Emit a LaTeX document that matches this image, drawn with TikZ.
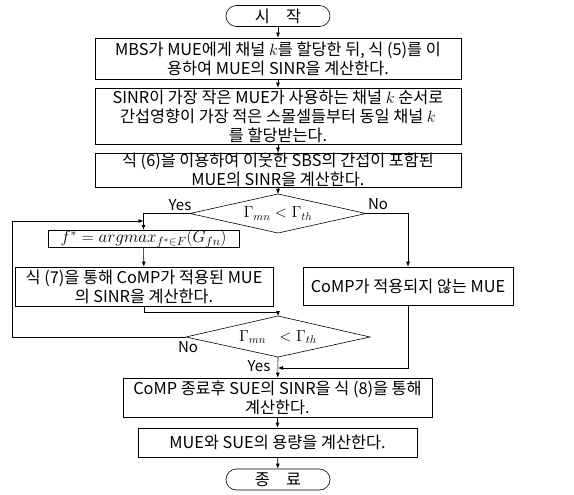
\documentclass[tikz,border=0pt]{standalone}
\usepackage{fix-cm}
\usepackage{fontspec}
\setmainfont{Noto Sans CJK KR}
\usetikzlibrary{shapes.geometric,arrows.meta}
\tikzset{
  txt/.style={font=\fontsize{16.3}{19}\selectfont},
  box/.style={draw, line width=0.6pt, rectangle, align=center, inner sep=0pt, txt},
  term/.style={draw, line width=0.6pt, rectangle, rounded corners=10.5pt, minimum width=104pt, minimum height=21pt, inner sep=0pt, txt},
  mth/.style={inner sep=0pt, font=\fontsize{16}{18}\selectfont},
  conn/.style={line width=0.6pt, -{Latex[length=5pt,width=4pt]}},
  line/.style={line width=0.6pt},
  lbl/.style={font=\fontsize{15}{17}\selectfont, inner sep=0pt}
}
\begin{document}
\begin{tikzpicture}[x=1pt,y=-1pt]
\useasboundingbox (0,0) rectangle (574,495);
\node[term] (start) at (278,16) {시\quad 작};
\node[box, minimum width=366pt, minimum height=41pt] (b1) at (278,58.5) {MBS가 MUE에게 채널 $k$를 할당한 뒤, 식 (5)를 이\\용하여 MUE의 SINR을 계산한다.};
\node[box, minimum width=366pt, minimum height=56pt] (b2) at (278,116) {SINR이 가장 작은 MUE가 사용하는 채널 $k$ 순서로\\간섭영향이 가장 적은 스몰셀들부터 동일 채널 $k$\\를 할당받는다.};
\node[box, minimum width=366pt, minimum height=34pt] (b3) at (278,170) {식 (6)을 이용하여 이웃한 SBS의 간섭이 포함된\\MUE의 SINR을 계산한다.};
\draw[line] (278,194) -- (366,213.5) -- (278,233) -- (190,213.5) -- cycle;
\node[mth] (d1) at (278,213.5) {$\Gamma_{mn} < \Gamma_{th}$};
\coordinate (d1t) at (278,194);
\coordinate (d1l) at (190,213.5);
\coordinate (d1r) at (366,213.5);
\node[box, mth, font=\fontsize{17}{19}\selectfont, minimum width=191pt, minimum height=16pt] (fb) at (143.5,239) {$f^{*} = argmax_{f^{*}\in F}(G_{fn})$};
\node[box, minimum width=258pt, minimum height=39pt] (b7) at (144,286.5) {식 (7)을 통해 CoMP가 적용된 MUE\\의 SINR을 계산한다.};
\node[box, minimum width=210pt, minimum height=38pt] (bn) at (408,286) {CoMP가 적용되지 않는 MUE};
\draw[line] (278,316) -- (370,337) -- (278,357) -- (186,337) -- cycle;
\node[mth] (d2) at (278,337) {$\Gamma_{mn}\;\; < \Gamma_{th}$};
\coordinate (d2t) at (278,316);
\coordinate (d2l) at (186,337);
\coordinate (d2b) at (278,357);
\node[box, minimum width=309pt, minimum height=39pt] (b8) at (277.5,397.5) {CoMP 종료후 SUE의 SINR을 식 (8)을 통해\\계산한다.};
\node[box, minimum width=279pt, minimum height=29pt] (b9) at (277.5,442.5) {MUE와 SUE의 용량을 계산한다.};
\node[term] (end) at (278,479.5) {종\quad 료};
% connectors
\draw[conn] (start) -- (b1);
\draw[conn] (b1) -- (b2);
\draw[conn] (b2) -- (b3);
\draw[conn] (b3) -- (d1t);
\draw[conn] (d1l) -| (fb.north);
\draw[conn] (d1r) -| (bn.north);
\draw[conn] (fb) -- (b7);
\draw[conn] (b7.south) |- (278,312) -- (d2t);
\coordinate (loopa) at (12,337);
\coordinate (loopb) at (12,221);
\draw[conn] (d2l) -- (loopa) -- (loopb) -- (fb.north |- loopb);
\draw[conn] (d2b) -- (b8);
\draw[conn] (bn.south) |- (278,368);
\draw[conn] (b8) -- (b9);
\draw[conn] (b9) -- (end);
% labels
\node[lbl] (yes1) at (180,205) {Yes};
\node[lbl] (no1) at (378,204) {No};
\node[lbl] (no2) at (188,347) {No};
\node[lbl] (yes2) at (259,366) {Yes};
\end{tikzpicture}
\end{document}
